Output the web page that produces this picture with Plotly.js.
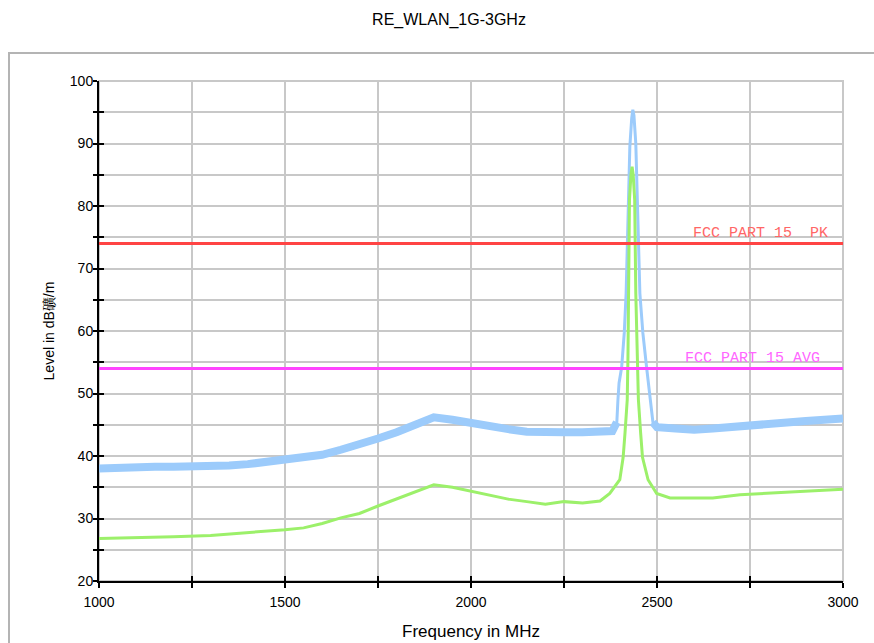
<!DOCTYPE html>
<html>
<head>
<meta charset="utf-8">
<script src="https://cdn.plot.ly/plotly-3.0.1.min.js"></script>
<style>html,body{margin:0;padding:0;background:#fff;}#chart{width:874px;height:643px;}</style>
</head>
<body>
<div id="chart"></div>
<script>
// Peak detector trace (light blue)
const peakFreq = [1000,1050,1100,1150,1200,1250,1300,1350,1400,1450,1500,1550,1600,1650,1700,1750,1800,1850,1900,1950,2000,2050,2100,2150,2200,2250,2300,2350,2380,2392,2395,2398,2405,2412,2417,2427,2432,2435,2438,2443,2454,2462,2472,2481,2489,2495,2500,2550,2600,2650,2700,2750,2800,2850,2900,2950,3000];
const peakLevel = [38.0,38.2,38.2,38.3,38.3,38.3,38.4,38.5,38.7,39.0,39.4,39.7,40.2,41.0,41.8,42.8,43.8,45.0,46.2,45.8,45.2,44.8,44.3,43.9,43.7,43.8,43.8,43.9,44.0,45.4,49.0,51.7,54.2,59.7,66.0,89.5,94.0,95.4,94.5,90.0,66.0,59.7,54.2,50.0,45.4,44.5,44.6,44.4,44.2,44.4,44.7,45.0,45.2,45.4,45.6,45.8,46.0];

// Average detector trace (green)
const avgFreq = [1000,1100,1200,1300,1400,1500,1550,1600,1650,1700,1750,1800,1850,1900,1950,2000,2050,2100,2150,2200,2250,2300,2347,2373,2400,2409,2414,2420,2422,2424,2426,2430,2433,2436,2440,2443,2447,2450,2456,2461,2476,2499,2535,2600,2650,2723,2812,2902,2992,3000];
const avgLevel = [26.8,26.9,27.1,27.3,27.7,28.2,28.5,29.2,30.1,30.8,32.0,33.1,34.3,35.4,35.0,34.4,33.7,33.1,32.7,32.3,32.7,32.5,32.8,34.0,36.2,39.8,43.7,49.0,56.0,66.0,81.0,85.0,86.3,85.0,81.0,66.0,54.2,49.0,43.7,39.8,36.2,34.0,33.3,33.3,33.3,33.8,34.1,34.3,34.7,34.7];

// Limit lines
const limitFreq = [1000, 3000];
const limitPK = 74;
const limitAVG = 54;
const limitPKLabel = 'FCC PART 15\u00a0\u00a0PK';
const limitAVGLabel = 'FCC PART 15 AVG';

// Axis ticks
const yTickVals = [20,30,40,50,60,70,80,90,100];
const xTickVals = [1000,1500,2000,2500,3000];

function slice(fx, fy, lo, hi) {
  const xs = [], ys = [];
  for (let i = 0; i < fx.length; i++) {
    if (fx[i] >= lo && fx[i] <= hi) { xs.push(fx[i]); ys.push(fy[i]); }
  }
  return {x: xs, y: ys};
}

const blueColor = '#9ccbfb';
const greenColor = '#9cf06a';

const bLow = slice(peakFreq, peakLevel, 1000, 2392);
const bPeak = slice(peakFreq, peakLevel, 2380, 2500);
const bHigh = slice(peakFreq, peakLevel, 2489, 3000);

const traces = [
  {x: bLow.x, y: bLow.y, type: 'scatter', mode: 'lines', line: {color: blueColor, width: 8}, hoverinfo: 'skip'},
  {x: bPeak.x, y: bPeak.y, type: 'scatter', mode: 'lines', line: {color: blueColor, width: 3}, hoverinfo: 'skip'},
  {x: bHigh.x, y: bHigh.y, type: 'scatter', mode: 'lines', line: {color: blueColor, width: 8}, hoverinfo: 'skip'},
  {x: avgFreq, y: avgLevel, type: 'scatter', mode: 'lines', line: {color: greenColor, width: 3}, hoverinfo: 'skip'},
  {x: limitFreq, y: limitFreq.map(() => limitPK), xaxis: 'x2', yaxis: 'y2', type: 'scatter', mode: 'lines', line: {color: '#ff4444', width: 3}, hoverinfo: 'skip'},
  {x: limitFreq, y: limitFreq.map(() => limitAVG), xaxis: 'x2', yaxis: 'y2', type: 'scatter', mode: 'lines', line: {color: '#ff44ff', width: 3}, hoverinfo: 'skip'}
];

const fontFam = 'Arial, "Liberation Sans", sans-serif';

const layout = {
  width: 874, height: 643,
  margin: {l: 99, r: 31, t: 81, b: 62},
  paper_bgcolor: '#ffffff', plot_bgcolor: '#ffffff',
  showlegend: false,
  font: {family: fontFam, color: '#000'},
  title: {text: 'RE_WLAN_1G-3GHz', font: {family: fontFam, size: 16, color: '#000'}, x: 449/874, xref: 'container', xanchor: 'center', y: 1 - 19/643, yref: 'container', yanchor: 'middle'},
  xaxis: {
    range: [1000, 3000], tickvals: xTickVals, ticktext: xTickVals.map(String),
    ticks: 'outside', ticklen: 5, tickwidth: 2, tickcolor: '#000',
    showline: true, linecolor: '#000', linewidth: 2,
    showgrid: true, gridcolor: '#c8c8c8', gridwidth: 2, zeroline: false,
    minor: {dtick: 250, tick0: 1000, ticks: 'outside', ticklen: 5, tickwidth: 2, tickcolor: '#000', showgrid: true, gridcolor: '#c8c8c8', gridwidth: 2},
    tickfont: {family: fontFam, size: 14, color: '#000'},
    ticklabelstandoff: 2,
    title: {text: 'Frequency in MHz', font: {family: fontFam, size: 17, color: '#000'}, standoff: 16},
    automargin: false, fixedrange: true
  },
  yaxis: {
    range: [20, 100], tickvals: yTickVals, ticktext: yTickVals.map(String),
    ticks: 'outside', ticklen: 4, tickwidth: 2, tickcolor: '#000',
    showline: true, linecolor: '#000', linewidth: 2,
    showgrid: true, gridcolor: '#c8c8c8', gridwidth: 2, zeroline: false,
    minor: {dtick: 5, tick0: 20, ticks: 'outside', ticklen: 4, tickwidth: 2, tickcolor: '#000', showgrid: true, gridcolor: '#c8c8c8', gridwidth: 2},
    tickfont: {family: fontFam, size: 14, color: '#000'},
    ticklabelstandoff: -3,
    title: {text: 'Level in dB礦/m', font: {family: fontFam, size: 14, color: '#000'}, standoff: 12},
    automargin: false, fixedrange: true
  },
  xaxis2: {
    overlaying: 'x', range: [1000, 3000], tickvals: xTickVals, showticklabels: false,
    ticks: 'inside', ticklen: 5, tickwidth: 2, tickcolor: '#000',
    showline: false, showgrid: false, zeroline: false,
    minor: {dtick: 250, tick0: 1000, ticks: 'inside', ticklen: 5, tickwidth: 2, tickcolor: '#000', showgrid: false},
    fixedrange: true
  },
  yaxis2: {
    overlaying: 'y', range: [20, 100], tickvals: yTickVals, showticklabels: false,
    ticks: 'inside', ticklen: 5, tickwidth: 2, tickcolor: '#000',
    showline: false, showgrid: false, zeroline: false,
    minor: {dtick: 5, tick0: 20, ticks: 'inside', ticklen: 5, tickwidth: 2, tickcolor: '#000', showgrid: false},
    fixedrange: true
  },
  shapes: [
    {type: 'rect', xref: 'paper', yref: 'paper', x0: (9 - 99) / 744, x1: 1.2, y0: -0.3, y1: (581 - 53) / 500, line: {color: '#b4b4b4', width: 2}, layer: 'below'},
    {type: 'rect', xref: 'paper', yref: 'paper', x0: 0, x1: 1, y0: 0, y1: 1, line: {color: '#c8c8c8', width: 2}, layer: 'below'}
  ],
  annotations: [
    {x: 2965, y: limitPK, xref: 'x', yref: 'y', text: limitPKLabel, showarrow: false, xanchor: 'right', yanchor: 'bottom', yshift: 0, font: {family: '"Liberation Mono", monospace', size: 15, color: '#ff6666'}},
    {x: 2943, y: limitAVG, xref: 'x', yref: 'y', text: limitAVGLabel, showarrow: false, xanchor: 'right', yanchor: 'bottom', yshift: 0, font: {family: '"Liberation Mono", monospace', size: 15, color: '#ff66ff'}}
  ]
};

Plotly.newPlot('chart', traces, layout, {staticPlot: true, displayModeBar: false});
</script>
</body>
</html>
